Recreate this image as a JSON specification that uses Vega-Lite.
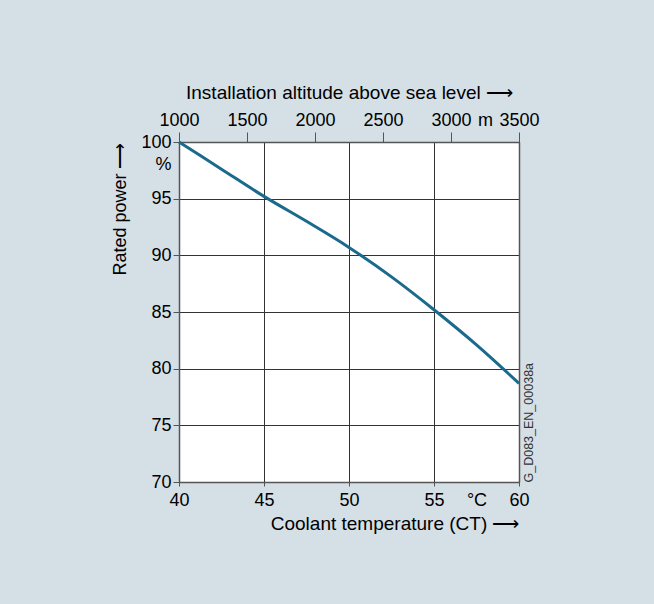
{
  "$schema": "https://vega.github.io/schema/vega-lite/v6.json",
  "autosize": "none",
  "width": 340,
  "height": 340,
  "padding": {"left": 179, "top": 142, "right": 135, "bottom": 122},
  "background": "#d5dfe6",
  "config": {
    "view": {"fill": "white", "stroke": null},
    "font": "Liberation Sans",
    "axis": {
      "labelFont": "Liberation Sans",
      "titleFont": "Liberation Sans",
      "labelFontSize": 18,
      "titleFontSize": 19,
      "labelColor": "#000",
      "titleColor": "#000",
      "titleFontWeight": "normal",
      "domainColor": "#555",
      "domainWidth": 1.5,
      "tickColor": "#555",
      "gridColor": "#333",
      "gridWidth": 1,
      "labelOverlap": false,
      "labelBound": false,
      "labelFlush": false
    }
  },
  "layer": [
    {
      "data": {
        "values": [
          {"temp": 40, "power": 100},
          {"temp": 42.5, "power": 97.6},
          {"temp": 45, "power": 95.2},
          {"temp": 47.5, "power": 93.0},
          {"temp": 50, "power": 90.7},
          {"temp": 52.5, "power": 88.1},
          {"temp": 55, "power": 85.2},
          {"temp": 57.5, "power": 82.1},
          {"temp": 60, "power": 78.7}
        ]
      },
      "mark": {"type": "line", "color": "#1a6a8e", "strokeWidth": 3, "interpolate": "monotone"},
      "encoding": {
        "x": {
          "field": "temp",
          "type": "quantitative",
          "scale": {"domain": [40, 60], "nice": false, "zero": false},
          "axis": {
            "orient": "bottom",
            "values": [40, 45, 50, 55, 57.5, 60],
            "labelExpr": "datum.value == 57.5 ? '°C' : datum.label",
            "format": "d",
            "grid": true,
            "gridOpacity": {"condition": {"test": "datum.value == 57.5", "value": 0}, "value": 1},
            "tickOpacity": {"condition": {"test": "datum.value == 57.5", "value": 0}, "value": 1},
            "tickSize": 4,
            "labelPadding": 5,
            "title": "Coolant temperature (CT) ⟶",
            "titleAnchor": "end",
            "titlePadding": 5
          }
        },
        "y": {
          "field": "power",
          "type": "quantitative",
          "scale": {"domain": [70, 100], "nice": false, "zero": false},
          "axis": {
            "orient": "left",
            "values": [70, 75, 80, 85, 90, 95, 98, 100],
            "labelExpr": "datum.value == 98 ? '%' : datum.label",
            "format": "d",
            "grid": true,
            "gridOpacity": {"condition": {"test": "datum.value == 98", "value": 0}, "value": 1},
            "tickOpacity": {"condition": {"test": "datum.value == 98", "value": 0}, "value": 1},
            "tickSize": 6,
            "labelPadding": 2,
            "title": "Rated power ⟶",
            "titleFontSize": 18,
            "titleAnchor": "end",
            "titlePadding": 11
          }
        }
      }
    },
    {
      "data": {
        "values": [
          {"altitude": 1000, "power": 100},
          {"altitude": 3500, "power": 78.7}
        ]
      },
      "mark": {"type": "point", "opacity": 0},
      "encoding": {
        "x": {
          "field": "altitude",
          "type": "quantitative",
          "scale": {"domain": [1000, 3500], "nice": false, "zero": false},
          "axis": {
            "orient": "top",
            "values": [1000, 1500, 2000, 2500, 3000, 3250, 3500],
            "labelExpr": "datum.value == 3250 ? 'm' : datum.label",
            "format": "d",
            "grid": false,
            "tickOpacity": {"condition": {"test": "datum.value == 3250", "value": 0}, "value": 1},
            "tickSize": 10,
            "labelPadding": 3,
            "title": "Installation altitude above sea level ⟶",
            "titlePadding": 9
          }
        },
        "y": {
          "field": "power",
          "type": "quantitative",
          "scale": {"domain": [70, 100], "nice": false, "zero": false},
          "axis": {
            "orient": "right",
            "labels": false,
            "ticks": false,
            "grid": false,
            "title": "G_D083_EN_00038a",
            "titleFontSize": 12.5,
            "titleColor": "#333",
            "titleAngle": 270,
            "titleBaseline": "top",
            "titleAnchor": "start",
            "titlePadding": 3
          }
        }
      }
    }
  ],
  "resolve": {"scale": {"x": "independent", "y": "independent"}}
}
